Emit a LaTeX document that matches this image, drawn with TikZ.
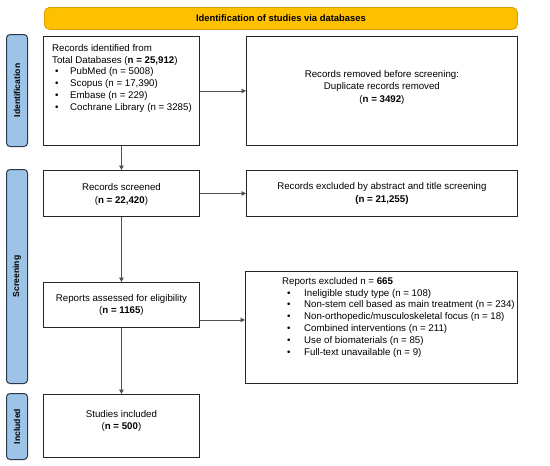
\documentclass[tikz,border=0pt]{standalone}
\usepackage{fontspec}
\setmainfont{Liberation Sans}
\usetikzlibrary{arrows.meta,calc,positioning}
\definecolor{hdr}{HTML}{FFC000}
\definecolor{hdrb}{HTML}{D9A000}
\definecolor{side}{HTML}{9DC3E6}
\definecolor{sideb}{HTML}{2B3A4A}
\definecolor{ln}{HTML}{505050}
\tikzset{
  x=1pt, y=-1pt,
  box/.style={draw=black!85, line width=0.9pt, fill=white, inner sep=0pt, anchor=north west},
  sidelab/.style={draw=sideb, line width=1pt, fill=side, rounded corners=3.5pt, inner sep=0pt, anchor=north west, minimum width=21pt},
  sidetxt/.style={rotate=90, font=\fontsize{8.6}{10}\selectfont\bfseries},
  header/.style={draw=hdrb, line width=0.8pt, fill=hdr, rounded corners=5pt, inner sep=0pt, anchor=north west, font=\fontsize{9.4}{11}\selectfont\bfseries},
  txt/.style={font=\fontsize{9.7}{11.8}\selectfont, inner sep=0pt, align=left},
  ctxt/.style={font=\fontsize{9.7}{12.2}\selectfont, inner sep=0pt, align=center},
  arr/.style={draw=ln, line width=0.8pt, -{Triangle[length=4.5pt,width=4.5pt]}},
}
\newcommand{\bl}[1]{\makebox[15pt][l]{\textbullet}#1}
\begin{document}
\begin{tikzpicture}
\useasboundingbox (0,0) rectangle (550,466);
% header
\node[header, minimum width=473pt, minimum height=22pt] (hdr) at (44,7) {Identification of studies via databases};
% side labels
\node[sidelab, minimum height=112pt] (sid) at (6,34) {};
\node[sidetxt] at (sid.center) {Identification};
\node[sidelab, minimum height=214pt] (sscr) at (6,169) {};
\node[sidetxt] at (sscr.center) {Screening};
\node[sidelab, minimum height=66pt] (sinc) at (6,393) {};
\node[sidetxt] at (sinc.center) {Included};
% boxes
\node[box, minimum width=156pt, minimum height=109pt] (b1) at (43,36) {};
\node[txt, anchor=north west] at (52,44) {Records identified from\\
Total Databases (\textbf{n = 25,912})\\
\hspace*{3pt}\bl{PubMed (n = 5008)}\\
\hspace*{3pt}\bl{Scopus (n = 17,390)}\\
\hspace*{3pt}\bl{Embase (n = 229)}\\
\hspace*{3pt}\bl{Cochrane Library (n = 3285)}};
\node[box, minimum width=271pt, minimum height=109pt] (rem) at (246,36) {};
\node[ctxt] at ($(rem.center)+(0,-3.5)$) {Records removed before screening:\\Duplicate records removed\\(\textbf{n = 3492})};
\node[box, minimum width=156pt, minimum height=46pt] (scr) at (43,170) {};
\node[ctxt] at ($(scr.center)+(0,1)$) {Records screened\\(\textbf{n = 22,420})};
\node[box, minimum width=271pt, minimum height=46pt] (exc) at (246,170) {};
\node[ctxt] at (exc.center) {Records excluded by abstract and title screening\\\textbf{(n = 21,255)}};
\node[box, minimum width=156pt, minimum height=45pt] (ass) at (43,282) {};
\node[ctxt] at (ass.center) {Reports assessed for eligibility\\(\textbf{n = 1165})};
\node[box, minimum width=272pt, minimum height=112pt] (rex) at (245,271) {};
\node[txt, anchor=north west] at (282,277) {Reports excluded n = \textbf{665}\\
\hspace*{5pt}\bl{\hspace*{2pt}Ineligible study type (n = 108)}\\
\hspace*{5pt}\bl{\hspace*{2pt}Non-stem cell based as main treatment (n = 234)}\\
\hspace*{5pt}\bl{\hspace*{2pt}Non-orthopedic/musculoskeletal focus (n = 18)}\\
\hspace*{5pt}\bl{\hspace*{2pt}Combined interventions (n = 211)}\\
\hspace*{5pt}\bl{\hspace*{2pt}Use of biomaterials (n = 85)}\\
\hspace*{5pt}\bl{\hspace*{2pt}Full-text unavailable (n = 9)}};
\node[box, minimum width=156pt, minimum height=63pt] (inc) at (43,394) {};
\node[ctxt] at ($(inc.center)+(0,-5)$) {Studies included\\(\textbf{n = 500})};
% connectors
\draw[arr] (b1.south) -- (scr.north);
\draw[arr] (scr.south) -- (ass.north);
\draw[arr] (ass.south) -- (inc.north);
\draw[arr] (b1.east) -- (rem.west);
\draw[arr] (scr.east) -- (exc.west);
\draw[arr] ([yshift=-15pt]ass.east) -- ([yshift=-15pt]ass.east -| rex.west);
\end{tikzpicture}
\end{document}
